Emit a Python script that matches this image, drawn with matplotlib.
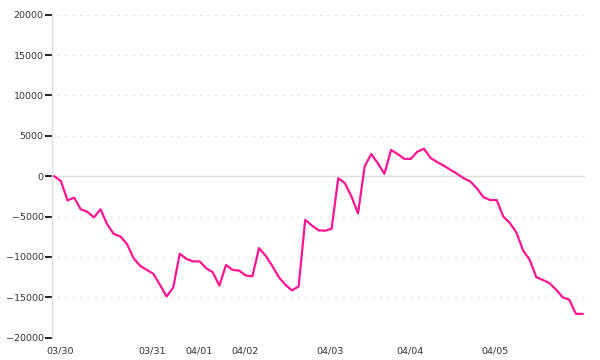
import matplotlib
matplotlib.use('Agg')
import matplotlib.pyplot as plt

# balance values, one per sample
balance = [
    0, -600, -3000, -2650, -4100, -4400, -5100, -4100, -5950, -7150,
    -7450, -8400, -10150, -11100, -11600, -12100, -13450, -14900, -13800, -9600,
    -10250, -10550, -10550, -11400, -11900, -13550, -11000, -11600, -11700, -12300,
    -12400, -8900, -9850, -11100, -12500, -13450, -14150, -13650, -5400, -6100,
    -6700, -6750, -6500, -250, -850, -2500, -4600, 1200, 2750, 1600,
    300, 3250, 2750, 2150, 2150, 3050, 3400, 2250, 1750, 1300,
    800, 300, -250, -650, -1500, -2600, -2950, -2950, -5000, -5800,
    -7000, -9200, -10350, -12500, -12850, -13250, -14050, -15000, -15300, -17050,
    -17050,
]

# where each date label sits along the sample index
date_pos = [0.9, 14.8, 21.9, 28.9, 41.7, 53.9, 66.7]
date_labels = ['03/30', '03/31', '04/01', '04/02', '04/03', '04/04', '04/05']

y_ticks = [20000, 15000, 10000, 5000, 0, -5000, -10000, -15000, -20000]

fig = plt.figure(figsize=(6, 3.6), dpi=100)
ax = fig.add_axes([0.0867, 0.062, 0.888, 0.897])

idx = list(range(len(balance)))

# grid: dotted lines, solid line at zero
for v in y_ticks:
    if v == 0:
        ax.axhline(v, color='#dddddd', linewidth=1.0, zorder=1)
    else:
        ax.axhline(v, xmin=0.01, color='#e6e6e6', linewidth=0.9,
                   linestyle=(0, (2, 4)), zorder=1)

ax.plot(idx, balance, color='#ff1493', linewidth=1.6, zorder=3)

ax.set_xlim(-0.35, 80.35)
ax.set_ylim(-20000, 20000)

ax.set_yticks(y_ticks)
ax.set_yticklabels([str(v).replace('-', '\u2212') for v in y_ticks])
ax.set_xticks(date_pos)
ax.set_xticklabels(date_labels)

ax.tick_params(axis='y', direction='out', length=5, width=1.3, color='#111111',
               labelsize=6.8, labelcolor='#333333', pad=1, left=True)
ax.tick_params(axis='x', length=0, labelsize=6.8, labelcolor='#333333', pad=6)

for s in ['top', 'right', 'bottom']:
    ax.spines[s].set_visible(False)
ax.spines['left'].set_color('#dddddd')
ax.spines['left'].set_linewidth(1.0)

fig.savefig('out.png', dpi=100)
